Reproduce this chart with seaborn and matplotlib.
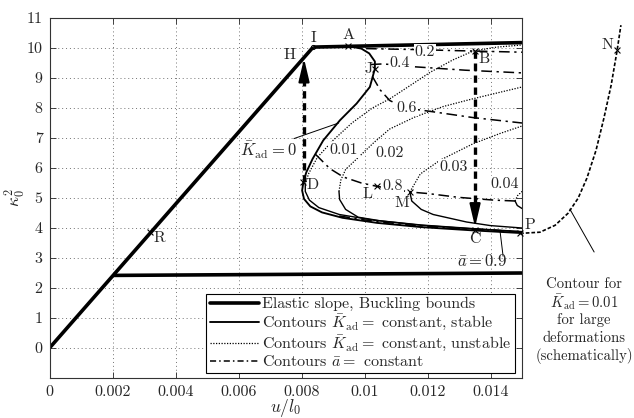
import numpy as np
import matplotlib
matplotlib.use("Agg")
import matplotlib.pyplot as plt
import seaborn as sns
from matplotlib.lines import Line2D

# ---------------- data ----------------
xticks = [0, 0.002, 0.004, 0.006, 0.008, 0.01, 0.012, 0.014]
xtick_labels = ["0", "0.002", "0.004", "0.006", "0.008", "0.01", "0.012", "0.014"]
yticks = list(range(0, 12))

# elastic slope and buckling bounds
elastic_x = [0.0, 0.00837]
elastic_y = [0.0, 10.03]
upper_x = [0.00837, 0.015]
upper_y = [10.03, 10.18]
lower_x = [0.00203, 0.015]
lower_y = [2.42, 2.50]

# K_ad = 0 (stable, solid)
kad0_x = [0.00949, 0.00990, 0.01015, 0.01033, 0.01033, 0.01017, 0.00975, 0.00922,
          0.00869, 0.00835, 0.00815, 0.00806, 0.00802, 0.00808, 0.00828, 0.00865,
          0.00930, 0.01040, 0.01180, 0.01345, 0.01500]
kad0_y = [10.06, 9.98, 9.82, 9.55, 9.31, 8.70, 8.15, 7.59, 6.92, 6.30, 5.85, 5.53,
          5.25, 4.97, 4.72, 4.52, 4.34, 4.17, 4.03, 3.92, 3.83]

# K_ad = 0.01
kad01_st_x = [0.00812, 0.00812, 0.00825, 0.00855, 0.00920, 0.01030, 0.01180, 0.01345, 0.01500]
kad01_st_y = [5.45, 5.22, 4.93, 4.68, 4.45, 4.26, 4.09, 3.97, 3.87]
kad01_un_x = [0.00812, 0.00822, 0.00850, 0.00900, 0.00960, 0.01025, 0.01081, 0.01145,
              0.01210, 0.01280, 0.01345, 0.01420, 0.01500]
kad01_un_y = [5.45, 5.80, 6.35, 6.92, 7.50, 8.00, 8.31, 8.75, 9.20, 9.60, 9.90, 10.03, 10.10]

# K_ad = 0.02
kad02_st_x = [0.00919, 0.00921, 0.00940, 0.00980, 0.01050, 0.01180, 0.01345, 0.01500]
kad02_st_y = [5.22, 4.95, 4.62, 4.36, 4.24, 4.10, 3.98, 3.88]
kad02_un_x = [0.00919, 0.00925, 0.00940, 0.00975, 0.01030, 0.01080, 0.01160, 0.01250,
              0.01345, 0.01500]
kad02_un_y = [5.22, 5.60, 5.95, 6.30, 6.85, 7.30, 7.70, 8.05, 8.31, 8.70]

# K_ad = 0.03
kad03_st_x = [0.01144, 0.01150, 0.01180, 0.01218, 0.01324, 0.01400, 0.01500]
kad03_st_y = [5.20, 4.90, 4.62, 4.45, 4.20, 4.08, 4.00]
kad03_un_x = [0.01144, 0.01177, 0.01240, 0.01345, 0.01430, 0.01500]
kad03_un_y = [5.20, 5.80, 6.26, 6.81, 7.15, 7.40]

# K_ad = 0.04
kad04_st_x = [0.01478, 0.01485, 0.01500]
kad04_st_y = [4.90, 4.75, 4.65]
kad04_un_x = [0.01478, 0.01486, 0.01500]
kad04_un_y = [4.90, 5.08, 5.22]

# a-bar contours (dash-dot)
a02_x = [0.01005, 0.01150, 0.01300, 0.01500]
a02_y = [9.98, 9.95, 9.91, 9.86]
a04_x = [0.01020, 0.01060, 0.01150, 0.01320, 0.01500]
a04_y = [9.45, 9.47, 9.38, 9.26, 9.17]
a06_x = [0.01025, 0.01050, 0.01080, 0.01130, 0.01200, 0.01345, 0.01500]
a06_y = [9.05, 8.60, 8.25, 8.00, 7.90, 7.68, 7.50]
a08_x = [0.00845, 0.00890, 0.00933, 0.00990, 0.01039, 0.01100, 0.01144, 0.01200,
         0.01300, 0.01410, 0.01478]
a08_y = [6.45, 5.98, 5.70, 5.50, 5.39, 5.28, 5.20, 5.15, 5.02, 4.93, 4.90]
a09_x = [0.00920, 0.01000, 0.01120, 0.01250, 0.01400, 0.01500]
a09_y = [4.40, 4.27, 4.12, 4.01, 3.93, 3.87]

# schematic large-deformation contour (outside the axes)
outer_x = [0.01494, 0.01557, 0.01605, 0.01646, 0.01678, 0.01706, 0.01735, 0.01760,
           0.01783, 0.01802, 0.01814]
outer_y = [3.82, 3.86, 4.09, 4.49, 4.99, 5.66, 6.59, 7.66, 8.76, 9.92, 10.76]

# arrows (dashed) D -> H and B -> C
arrow1_x = 0.00808
arrow1_y = [5.53, 9.65]
arrow2_x = 0.01351
arrow2_y = [9.90, 4.03]

# marked points
pt_names = ["A", "B", "C", "D", "J", "L", "M", "P", "N", "R"]
pt_x = [0.00949, 0.01351, 0.01351, 0.00806, 0.01033, 0.01039, 0.01144, 0.01494, 0.01802, 0.00319]
pt_y = [10.06, 9.90, 3.93, 5.53, 9.31, 5.39, 5.20, 3.82, 9.95, 3.87]
lab_x = [0.00949, 0.01378, 0.01351, 0.00834, 0.01012, 0.01011, 0.01119, 0.01525, 0.01770, 0.00348]
lab_y = [10.42, 9.64, 3.62, 5.42, 9.31, 5.14, 4.82, 4.10, 10.08, 3.66]
point_I = (0.00837, 10.03)
label_I = (0.00838, 10.33)
label_H = (0.00763, 9.76)

# contour labels
kad_lab_text = ["0.01", "0.02", "0.03", "0.04"]
kad_lab_x = [0.00935, 0.01078, 0.01284, 0.01446]
kad_lab_y = [6.59, 6.49, 6.02, 5.45]
a_lab_text = ["0.2", "0.4", "0.6", "0.8"]
a_lab_x = [0.01192, 0.01113, 0.01132, 0.01088]
a_lab_y = [9.86, 9.49, 7.99, 5.40]

legend_labels = [
    "Elastic slope, Buckling bounds",
    r"Contours $\bar{K}_{\mathrm{ad}}=$ constant, stable",
    r"Contours $\bar{K}_{\mathrm{ad}}=$ constant, unstable",
    r"Contours $\bar{a}=$ constant",
]
side_text = ["Contour for", r"$\bar{K}_{\mathrm{ad}}=0.01$", "for large",
             "deformations", "(schematically)"]
side_text_y = [2.13, 1.52, 0.92, 0.32, -0.26]

# ---------------- styling ----------------
sns.set_style("ticks")
plt.rcParams.update({
    "font.family": "serif",
    "font.serif": ["cmr10", "DejaVu Serif"],
    "mathtext.fontset": "cm",
    "axes.formatter.use_mathtext": True,
    "axes.unicode_minus": False,
})

W, H = 634, 418
fig = plt.figure(figsize=(W / 100, H / 100), dpi=100)
ax = fig.add_axes([49.5 / W, 1 - 378 / H, (522 - 49.5) / W, 360 / H])

LW_THICK = 2.6
LW_K0 = 1.35
LW_SOLID = 1.0
LW_DOT = 0.9
DOT = (0, (1, 1.2))
DASHDOT = (0, (7, 3, 1.5, 3))
FS = 11.5


def curve(xs, ys, **kw):
    sns.lineplot(x=np.asarray(xs, float), y=np.asarray(ys, float), sort=False,
                 estimator=None, ax=ax, color="k", legend=False, **kw)


# bounds
curve(elastic_x, elastic_y, linewidth=LW_THICK, solid_capstyle="butt")
curve(upper_x, upper_y, linewidth=LW_THICK, solid_capstyle="butt")
curve(lower_x, lower_y, linewidth=LW_THICK, solid_capstyle="butt")

# K_ad contours
curve(kad0_x, kad0_y, linewidth=LW_K0)
for xs, ys in [(kad01_st_x, kad01_st_y), (kad02_st_x, kad02_st_y),
               (kad03_st_x, kad03_st_y), (kad04_st_x, kad04_st_y)]:
    curve(xs, ys, linewidth=LW_SOLID)
for xs, ys in [(kad01_un_x, kad01_un_y), (kad02_un_x, kad02_un_y),
               (kad03_un_x, kad03_un_y), (kad04_un_x, kad04_un_y)]:
    curve(xs, ys, linewidth=LW_DOT, linestyle=DOT)

# a-bar contours
for xs, ys in [(a02_x, a02_y), (a04_x, a04_y), (a06_x, a06_y), (a08_x, a08_y), (a09_x, a09_y)]:
    curve(xs, ys, linewidth=1.1, linestyle=DASHDOT)

# outer schematic contour
curve(outer_x, outer_y, linewidth=1.2, linestyle=(0, (2.2, 1.2)), clip_on=False)

# dashed arrows
curve([arrow1_x, arrow1_x], [arrow1_y[0], arrow1_y[1] - 0.5], linewidth=2.4,
      linestyle=(0, (2.2, 1.4)))
curve([arrow2_x, arrow2_x], [arrow2_y[0], arrow2_y[1] + 0.5], linewidth=2.4,
      linestyle=(0, (2.2, 1.4)))
for x0, (ya, yb) in [(arrow1_x, arrow1_y), (arrow2_x, arrow2_y)]:
    direction = 1 if yb > ya else -1
    ax.annotate("", xy=(x0, yb), xytext=(x0, yb - direction * 0.75),
                arrowprops=dict(arrowstyle="-|>,head_length=1.4,head_width=0.33",
                                color="k", lw=1.5, shrinkA=0, shrinkB=0,
                                mutation_scale=10))

# markers
sns.scatterplot(x=pt_x, y=pt_y, marker="x", s=18, color="k", linewidth=0.8, ax=ax,
                legend=False, clip_on=False, zorder=5)
ax.plot([point_I[0]], [point_I[1]], marker="o", ms=3, mfc="none", mec="k", mew=0.7)

for name, x, y in zip(pt_names, lab_x, lab_y):
    ax.text(x, y, name, ha="center", va="center", fontsize=FS, clip_on=False)
ax.text(label_I[0], label_I[1], "I", ha="center", va="center", fontsize=FS)
ax.text(label_H[0], label_H[1], "H", ha="center", va="center", fontsize=FS)

box = dict(boxstyle="square,pad=0.08", fc="white", ec="none")
for s, x, y in zip(kad_lab_text, kad_lab_x, kad_lab_y):
    ax.text(x, y, s, ha="center", va="center", fontsize=FS, bbox=box, zorder=4)
for s, x, y in zip(a_lab_text, a_lab_x, a_lab_y):
    ax.text(x, y, s, ha="center", va="center", fontsize=FS, bbox=box, zorder=4)

# K_ad = 0 label with leader
ax.text(0.00694, 6.59, r"$\bar{K}_{\mathrm{ad}}=0$", ha="center", va="center", fontsize=FS + 0.5)
curve([0.00776, 0.00918], [6.98, 7.50], linewidth=0.7)
# a = 0.9 label with leader
ax.text(0.01372, 2.90, r"$\bar{a}=0.9$", ha="center", va="center", fontsize=FS + 0.5)
curve([0.01440, 0.01430], [3.06, 3.92], linewidth=0.7)

# side text for large deformations
curve([0.01652, 0.01729], [4.63, 3.20], linewidth=0.7, clip_on=False)
for s, y in zip(side_text, side_text_y):
    ax.text(0.01697, y, s, ha="center", va="center", fontsize=10.6, clip_on=False)

# axes
ax.set_xlim(0, 0.015)
ax.set_ylim(-1, 11)
ax.set_xticks(xticks)
ax.set_xticklabels(xtick_labels, fontsize=FS)
ax.set_yticks(yticks)
ax.set_yticklabels([str(v) for v in yticks], fontsize=FS)
ax.tick_params(direction="in", top=True, right=True, length=4, width=0.6, pad=5)
ax.grid(True, linestyle=(0, (1, 3)), color="0.45", linewidth=0.7)
ax.set_axisbelow(True)
for sp in ax.spines.values():
    sp.set_linewidth(0.8)
    sp.set_color("0.2")
ax.set_xlabel(r"$u/l_0$", fontsize=FS + 1)
ax.xaxis.set_label_coords(0.5, -0.052)
ax.set_ylabel(r"$\kappa_0^2$", fontsize=FS + 1)
ax.yaxis.set_label_coords(-0.047, 0.5)

handles = [
    Line2D([], [], color="k", lw=LW_THICK),
    Line2D([], [], color="k", lw=LW_K0),
    Line2D([], [], color="k", lw=LW_DOT, ls=DOT),
    Line2D([], [], color="k", lw=1.1, ls=(0, (4, 2, 1, 2))),
]
leg = ax.legend(handles, legend_labels, loc="lower right", bbox_to_anchor=(0.985, 0.014),
                borderaxespad=0, frameon=True, fancybox=False, edgecolor="k",
                framealpha=1, fontsize=FS, handlelength=3.1, handletextpad=0.2,
                labelspacing=0.08, borderpad=0.22)
leg.get_frame().set_linewidth(0.8)

fig.savefig("out.png", dpi=100)
